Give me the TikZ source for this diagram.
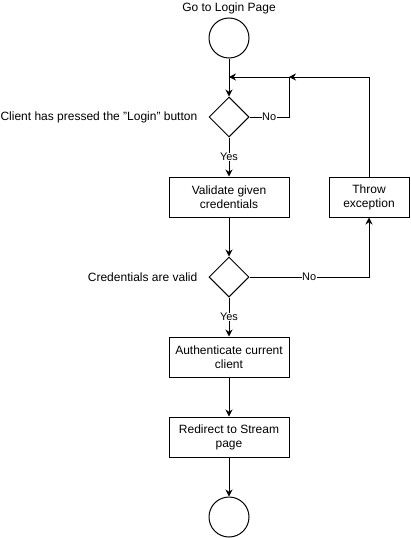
\documentclass[tikz,border=0pt]{standalone}
\usepackage{fontspec}
\setmainfont{Liberation Sans}
\usetikzlibrary{shapes.geometric,arrows.meta}
\begin{document}
\begin{tikzpicture}[x=1pt,y=-1pt,
  every node/.style={font=\fontsize{12}{14}\selectfont},
  box/.style={draw,line width=1pt,minimum width=120pt,minimum height=40pt,align=center,inner sep=0pt},
  term/.style={draw,circle,line width=1pt,minimum size=40pt,inner sep=0pt},
  dec/.style={draw,diamond,line width=1pt,minimum width=40pt,minimum height=40pt,inner sep=0pt},
  side/.style={anchor=east,inner sep=0pt},
  lab/.style={fill=white,inner sep=0.5pt,font=\fontsize{11}{13}\selectfont},
  arr/.style={line width=1pt,-{Stealth[length=7pt,width=7pt]}},
  ln/.style={line width=1pt}]
\useasboundingbox (0,0) rectangle (410,538);
\node (golab) at (229,8) {Go to Login Page};
\node[term] (start) at (229,38) {};
\coordinate (m1) at (229,77);
\coordinate (m2) at (289,77);
\node[dec] (d1) at (229,117) {};
\node[side] (d1lab) at (197.5,117) {Client has pressed the "Login" button};
\node[box] (val) at (229,197) {Validate given\\credentials};
\node[box,minimum width=80pt] (thr) at (369,197) {Throw\\exception};
\node[dec] (d2) at (229,277) {};
\node[side] (d2lab) at (197.5,277) {Credentials are valid};
\node[box] (auth) at (229,357) {Authenticate current\\client};
\node[box] (redir) at (229,437) {Redirect to Stream\\page};
\node[term] (end) at (229,517) {};

\draw[arr] (start) -- (d1);
\draw[arr] (d1.east) -| node[lab,pos=0.25] {No} (m2) -- (m1);
\draw[arr] (thr.north) |- (m2);
\draw[arr] (d1) -- node[lab] {Yes} (val);
\draw[arr] (val) -- (d2);
\draw[arr] (d2.east) -| node[lab,pos=0.25] {No} (thr.south);
\draw[arr] (d2) -- node[lab] {Yes} (auth);
\draw[arr] (auth) -- (redir);
\draw[arr] (redir) -- (end);
\end{tikzpicture}
\end{document}
